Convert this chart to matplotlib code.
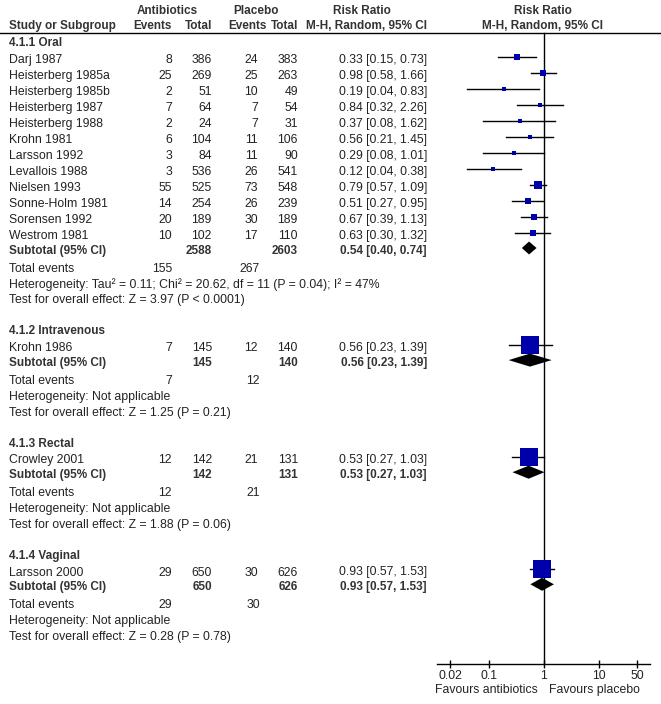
import numpy as np
import matplotlib
matplotlib.use("Agg")
import matplotlib.pyplot as plt

plt.rcParams['font.family'] = ['Liberation Sans', 'DejaVu Sans']

# ---- data ----
groups = ["4.1.1 Oral", "4.1.2 Intravenous", "4.1.3 Rectal", "4.1.4 Vaginal"]

studies = [
    ["Darj 1987", "Heisterberg 1985a", "Heisterberg 1985b", "Heisterberg 1987",
     "Heisterberg 1988", "Krohn 1981", "Larsson 1992", "Levallois 1988",
     "Nielsen 1993", "Sonne-Holm 1981", "Sorensen 1992", "Westrom 1981"],
    ["Krohn 1986"],
    ["Crowley 2001"],
    ["Larsson 2000"],
]
abx_events = [[8, 25, 2, 7, 2, 6, 3, 3, 55, 14, 20, 10], [7], [12], [29]]
abx_total = [[386, 269, 51, 64, 24, 104, 84, 536, 525, 254, 189, 102], [145], [142], [650]]
pla_events = [[24, 25, 10, 7, 7, 11, 11, 26, 73, 26, 30, 17], [12], [21], [30]]
pla_total = [[383, 263, 49, 54, 31, 106, 90, 541, 548, 239, 189, 110], [140], [131], [626]]
rr = [[0.33, 0.98, 0.19, 0.84, 0.37, 0.56, 0.29, 0.12, 0.79, 0.51, 0.67, 0.63], [0.56], [0.53], [0.93]]
rr_lo = [[0.15, 0.58, 0.04, 0.32, 0.08, 0.21, 0.08, 0.04, 0.57, 0.27, 0.39, 0.30], [0.23], [0.27], [0.57]]
rr_hi = [[0.73, 1.66, 0.83, 2.26, 1.62, 1.45, 1.01, 0.38, 1.09, 0.95, 1.13, 1.32], [1.39], [1.03], [1.53]]
# study weights within subgroup (%)
weights = [[8.5, 11.5, 4.0, 6.5, 4.5, 7.0, 4.0, 4.5, 15.5, 11.0, 12.0, 8.5], [100], [100], [100]]

sub_abx_total = [2588, 145, 142, 650]
sub_pla_total = [2603, 140, 131, 626]
sub_rr = [0.54, 0.56, 0.53, 0.93]
sub_lo = [0.40, 0.23, 0.27, 0.57]
sub_hi = [0.74, 1.39, 1.03, 1.53]
tot_abx_events = [155, 7, 12, 29]
tot_pla_events = [267, 12, 21, 30]
heterogeneity = ["Heterogeneity: Tau\u00b2 = 0.11; Chi\u00b2 = 20.62, df = 11 (P = 0.04); I\u00b2 = 47%",
                 "Heterogeneity: Not applicable",
                 "Heterogeneity: Not applicable",
                 "Heterogeneity: Not applicable"]
overall = ["Test for overall effect: Z = 3.97 (P < 0.0001)",
           "Test for overall effect: Z = 1.25 (P = 0.21)",
           "Test for overall effect: Z = 1.88 (P = 0.06)",
           "Test for overall effect: Z = 0.28 (P = 0.78)"]

xticks = [0.02, 0.1, 1, 10, 50]
xtick_labels = ["0.02", "0.1", "1", "10", "50"]

# ---- layout (pixels) ----
W, H = 661, 704
fig = plt.figure(figsize=(W / 100, H / 100), dpi=100)
ax = fig.add_axes([0, 0, 1, 1])
ax.set_xlim(0, W)
ax.set_ylim(H, 0)
ax.axis("off")

axis_y = 664
fx0, fx1 = 437, 650
fa = fig.add_axes([fx0 / W, (H - axis_y) / H, (fx1 - fx0) / W, axis_y / H])
fa.set_xscale("log")
fa.set_xlim(10 ** -1.94, 10 ** 1.93)
fa.set_ylim(axis_y, 0)
fa.patch.set_alpha(0)
for s in ["top", "left", "right"]:
    fa.spines[s].set_visible(False)
fa.spines["bottom"].set_linewidth(1)
fa.set_yticks([])
fa.set_xticks(xticks)
fa.set_xticklabels(xtick_labels, fontsize=8.8, color="#222222")
fa.minorticks_off()
fa.tick_params(axis="x", direction="inout", length=6, width=1, pad=1)

fs = 8.8      # regular text
fb = 8.5      # bold text
off = 4.4     # baseline below visual text centre
dark = "#222222"
bold_c = "#333333"
x_name = 9
x_ae, x_at, x_pe, x_pt, x_ci = 172, 212, 258, 298, 427
blue = "#0000AA"


def txt(x, yc, s, ha="left", bold=False):
    ax.text(x, yc + off, s, ha=ha, va="baseline",
            fontsize=fb if bold else fs,
            fontweight="bold" if bold else "normal",
            color=bold_c if bold else dark)


# header
txt(167, 9.3, "Antibiotics", "center", True)
txt(256, 9.3, "Placebo", "center", True)
txt(362, 9.3, "Risk Ratio", "center", True)
txt(543, 9.3, "Risk Ratio", "center", True)
txt(x_name, 24.5, "Study or Subgroup", "left", True)
txt(x_ae, 24.5, "Events", "right", True)
txt(x_at, 24.5, "Total", "right", True)
txt(267, 24.5, "Events", "right", True)
txt(x_pt, 24.5, "Total", "right", True)
txt(x_ci, 24.5, "M-H, Random, 95% CI", "right", True)
txt(543, 24.5, "M-H, Random, 95% CI", "center", True)
ax.plot([0, W], [32.5, 32.5], color="black", lw=1)

fa.plot([1, 1], [32.5, axis_y], color="black", lw=1, clip_on=False)

h = 42
for g in range(len(groups)):
    txt(x_name, h, groups[g], "left", True)
    yb = h - 1.5
    for i in range(len(studies[g])):
        yb += 16
        yc = yb + 2.3
        txt(x_name, yc, studies[g][i])
        txt(x_ae, yc, str(abx_events[g][i]), "right")
        txt(x_at, yc, str(abx_total[g][i]), "right")
        txt(x_pe, yc, str(pla_events[g][i]), "right")
        txt(x_pt, yc, str(pla_total[g][i]), "right")
        txt(x_ci, yc, f"{rr[g][i]:.2f} [{rr_lo[g][i]:.2f}, {rr_hi[g][i]:.2f}]", "right")
        fa.plot([rr_lo[g][i], rr_hi[g][i]], [yb, yb], color="black", lw=1)
        side = np.sqrt(weights[g][i] / 100) * 18 * 0.72
        fa.plot(rr[g][i], yb, marker="s", markersize=side, color=blue, markeredgewidth=0)
    yd = yb + 15.5
    yc = yd + 1.3
    txt(x_name, yc, "Subtotal (95% CI)", "left", True)
    txt(x_at, yc, str(sub_abx_total[g]), "right", True)
    txt(x_pt, yc, str(sub_pla_total[g]), "right", True)
    txt(x_ci, yc, f"{sub_rr[g]:.2f} [{sub_lo[g]:.2f}, {sub_hi[g]:.2f}]", "right", True)
    fa.fill([sub_lo[g], sub_rr[g], sub_hi[g], sub_rr[g]], [yd, yd - 6.5, yd, yd + 6.5],
            color="black", lw=0)
    yc += 18.5
    txt(x_name, yc, "Total events")
    txt(x_ae, yc, str(tot_abx_events[g]), "right")
    txt(260, yc, str(tot_pla_events[g]), "right")
    yc += 15.7
    txt(x_name, yc, heterogeneity[g])
    yc += 15.6
    txt(x_name, yc, overall[g])
    h = yc + 31

txt(538, 688.5, "Favours antibiotics", "right")
txt(549, 688.5, "Favours placebo", "left")

fig.savefig("out.png", dpi=100)
